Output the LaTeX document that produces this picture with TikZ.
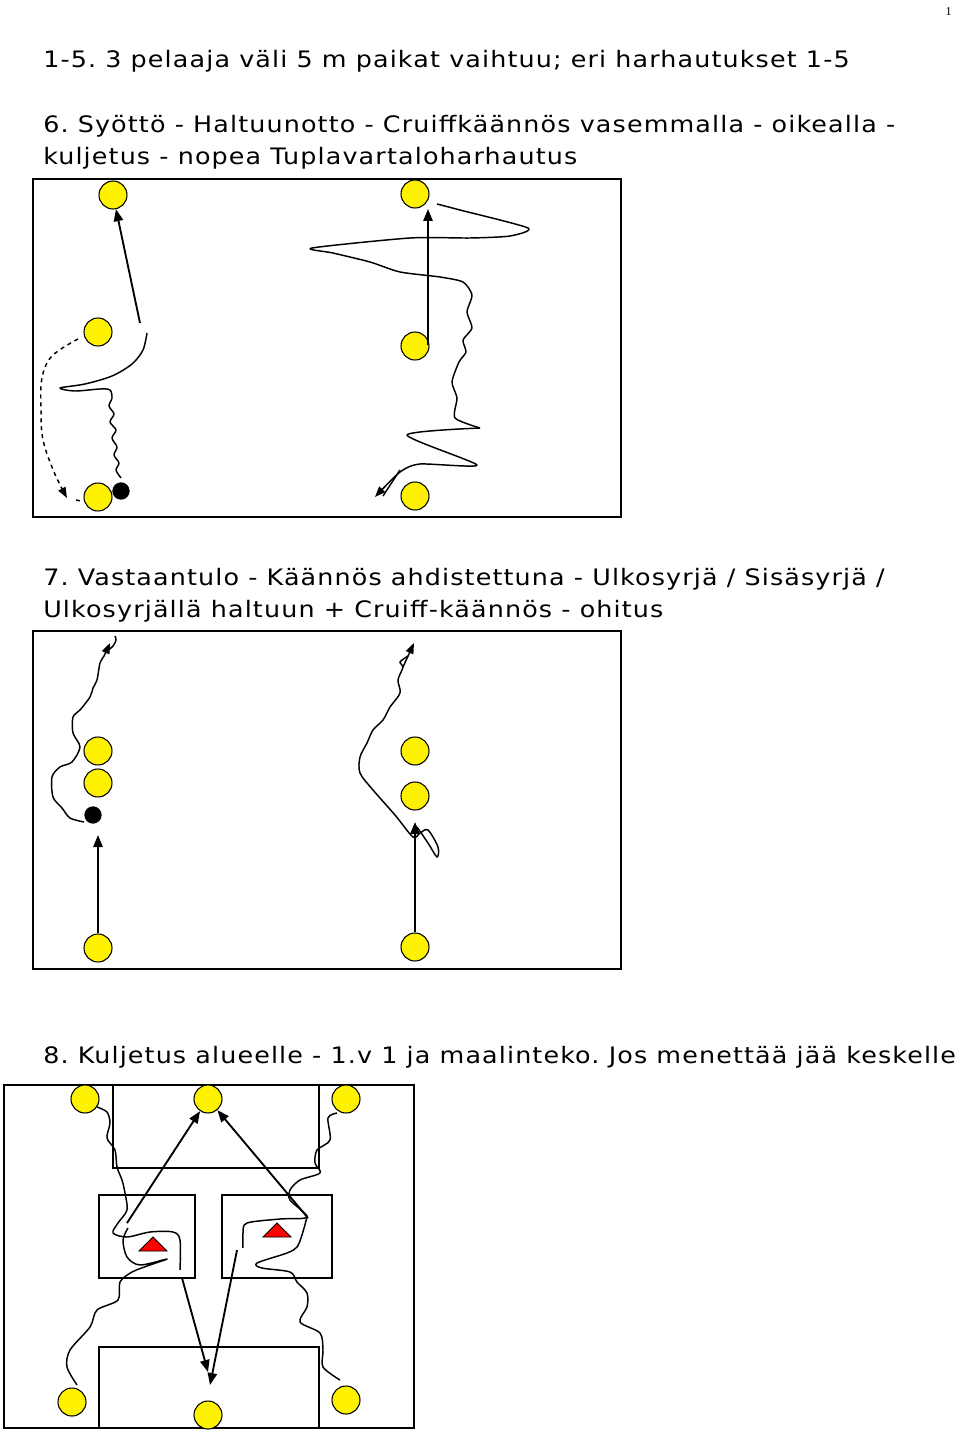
\documentclass[tikz,border=0pt]{standalone}
\usepackage{fontspec}
\setmainfont[FakeStretch=1.12,LetterSpace=5]{DejaVu Sans}
\newfontfamily\pnfont{Liberation Serif}
\usetikzlibrary{arrows.meta}
\frenchspacing
\begin{document}
\begin{tikzpicture}[x=0.75pt,y=-0.75pt,
  player/.style={circle,draw=black,fill=yellow,line width=0.8pt,minimum size=21pt,inner sep=0pt},
  ball/.style={circle,fill=black,minimum size=13pt,inner sep=0pt},
  field/.style={draw=black,line width=1pt},
  pass/.style={line width=1.4pt,-{Triangle[length=9pt,width=7pt]}},
  run/.style={line width=1.1pt,line join=round},
  cone/.style={draw=black,fill=red,line width=0.6pt},
  txt/.style={anchor=base west,inner sep=0pt,font=\fontsize{17pt}{20pt}\selectfont}]
\useasboundingbox (0,0) rectangle (960,1433);
\node[anchor=base east,inner sep=0pt,font=\pnfont\fontsize{9pt}{10pt}\selectfont] (pn) at (952,16) {1};
\node[txt] (t1) at (43,68) {1-5. 3 pelaaja väli 5 m paikat vaihtuu; eri harhautukset 1-5};
\node[txt] (t2) at (43,133) {6. Syöttö - Haltuunotto - Cruiffkäännös vasemmalla - oikealla -};
\node[txt] (t3) at (43,165) {kuljetus - nopea Tuplavartaloharhautus};
\node[txt] (t4) at (43,585) {7. Vastaantulo - Käännös ahdistettuna - Ulkosyrjä / Sisäsyrjä /};
\node[txt] (t5) at (43,617) {Ulkosyrjällä haltuun + Cruiff-käännös - ohitus};
\node[txt] (t6) at (43,1063) {8. Kuljetus alueelle - 1.v 1 ja maalinteko. Jos menettää jää keskelle};

% ---------- diagram 6 ----------
\draw[field] (33,179) rectangle (621,517);
\node[player] (a1) at (113,195) {};
\node[player] (a2) at (98,332) {};
\node[player] (a3) at (98,497) {};
\node[ball] (ab) at (121,491) {};
\node[player] (b1) at (415,194) {};
\node[player] (b2) at (415,346) {};
\node[player] (b3) at (415,496) {};
\coordinate (a2p) at (140,323);
\coordinate (b2p) at (428,345);
\coordinate (b1p) at (428,209);
\draw[pass] (a2p) -- (a1);
\draw[pass] (b2p) -- (b1p);
\draw[run,dashed,-{Triangle[length=8pt,width=6pt]}] plot[smooth,tension=0.6] coordinates {(78,339) (52,356) (42,378) (41,410) (43,440) (54,472) (67,498)};
\draw[run,dashed] (76,500) -- (81,501);
\draw[run] plot[smooth,tension=0.5] coordinates {(147,333) (143,350) (132,364) (112,376) (85,384) (60,388) (75,391) (100,389) (110,390) (112,398) (109,406) (114,414) (110,422) (116,430) (112,438) (117,447) (114,455) (119,463) (116,470) (121,478)};
\draw[run] plot[smooth,tension=0.4] coordinates {(437,204) (460,210) (528,228) (510,236) (470,238) (410,238) (312,248) (333,253) (370,262) (400,272) (440,277) (463,282) (472,295) (467,312) (472,328) (463,340) (466,352) (459,362) (452,382) (457,398) (455,418) (480,428)};
\draw[run,-{Triangle[length=8pt,width=6pt]}] plot[smooth,tension=0.4] coordinates {(480,428) (407,435) (477,465) (420,464) (400,472) (375,497)};
\draw[run] (400,470) -- (383,496);

% ---------- diagram 7 ----------
\draw[field] (33,631) rectangle (621,969);
\node[player] (c1) at (98,751) {};
\node[player] (c2) at (98,783) {};
\node[ball] (cb) at (93,815) {};
\node[player] (c3) at (98,948) {};
\node[player] (d1) at (415,751) {};
\node[player] (d2) at (415,796) {};
\node[player] (d3) at (415,947) {};
\coordinate (c3t) at (98,835);
\coordinate (d3t) at (415,822);
\draw[pass] (c3) -- (c3t);
\draw[pass] (d3) -- (d3t);
\draw[run,-{Triangle[length=8pt,width=6pt]}] plot[smooth,tension=0.5] coordinates {(84,822) (70,818) (62,808) (53,797) (52,777) (60,767) (72,762) (80,747) (73,733) (73,717) (80,710) (90,697) (93,688) (97,680) (100,663) (104,656) (110,643)};
\draw[run] plot[smooth,tension=0.6] coordinates {(106,652) (113,646) (116,640) (115,636)};
\draw[run] plot[smooth,tension=0.5] coordinates {(417,827) (428,843) (437,857) (438,847) (428,830) (420,833) (413,837) (395,815) (373,790) (360,773) (360,757) (367,743) (373,730) (383,720) (390,707) (400,693) (398,680) (403,667) (400,662) (408,656)};
\draw[run,-{Triangle[length=8pt,width=6pt]}] (403,667) -- (414,643);

% ---------- diagram 8 ----------
\draw[field] (4,1085) rectangle (414,1428);
\draw[field] (113,1085) rectangle (319,1168);
\draw[field] (99,1195) rectangle (195,1278);
\draw[field] (222,1195) rectangle (332,1278);
\draw[field] (99,1347) rectangle (319,1428);
\draw[cone] (139,1251) -- (167,1251) -- (153,1237) -- cycle;
\draw[cone] (263,1237) -- (291,1237) -- (277,1223) -- cycle;
\node[player] (e1) at (85,1099) {};
\node[player] (e2) at (208,1099) {};
\node[player] (e3) at (346,1099) {};
\node[player] (f1) at (72,1402) {};
\node[player] (f2) at (208,1415) {};
\node[player] (f3) at (346,1400) {};
\coordinate (p1) at (127,1223);
\coordinate (p2) at (308,1218);
\coordinate (p3) at (182,1278);
\coordinate (p3e) at (208,1372);
\coordinate (p4) at (237,1250);
\coordinate (p4e) at (210,1385);
\draw[pass] (p1) -- (e2);
\draw[pass] (p2) -- (e2);
\draw[pass] (p3) -- (p3e);
\draw[pass] (p4) -- (p4e);
\draw[run] plot[smooth,tension=0.5] coordinates {(97,1107) (107,1112) (110,1123) (107,1138) (115,1150) (117,1167) (122,1180) (125,1193) (127,1210) (118,1223) (113,1233) (127,1237) (150,1232) (173,1232) (180,1240) (180,1270)};
\draw[run] plot[smooth,tension=0.5] coordinates {(128,1228) (123,1240) (127,1257) (140,1265) (167,1259) (150,1265) (132,1272) (120,1282) (118,1300) (97,1310) (90,1327) (70,1350) (67,1367) (77,1385)};
\draw[run] plot[smooth,tension=0.5] coordinates {(337,1113) (328,1118) (330,1140) (317,1150) (315,1163) (320,1173) (300,1180) (290,1190) (290,1200) (307,1217) (280,1219) (247,1223) (243,1233) (243,1248)};
\draw[run] plot[smooth,tension=0.5] coordinates {(307,1217) (302,1235) (297,1247) (287,1253) (257,1263) (262,1268) (290,1272) (297,1282) (307,1293) (307,1307) (300,1322) (320,1333) (323,1350) (323,1367) (340,1380)};
\end{tikzpicture}
\end{document}
